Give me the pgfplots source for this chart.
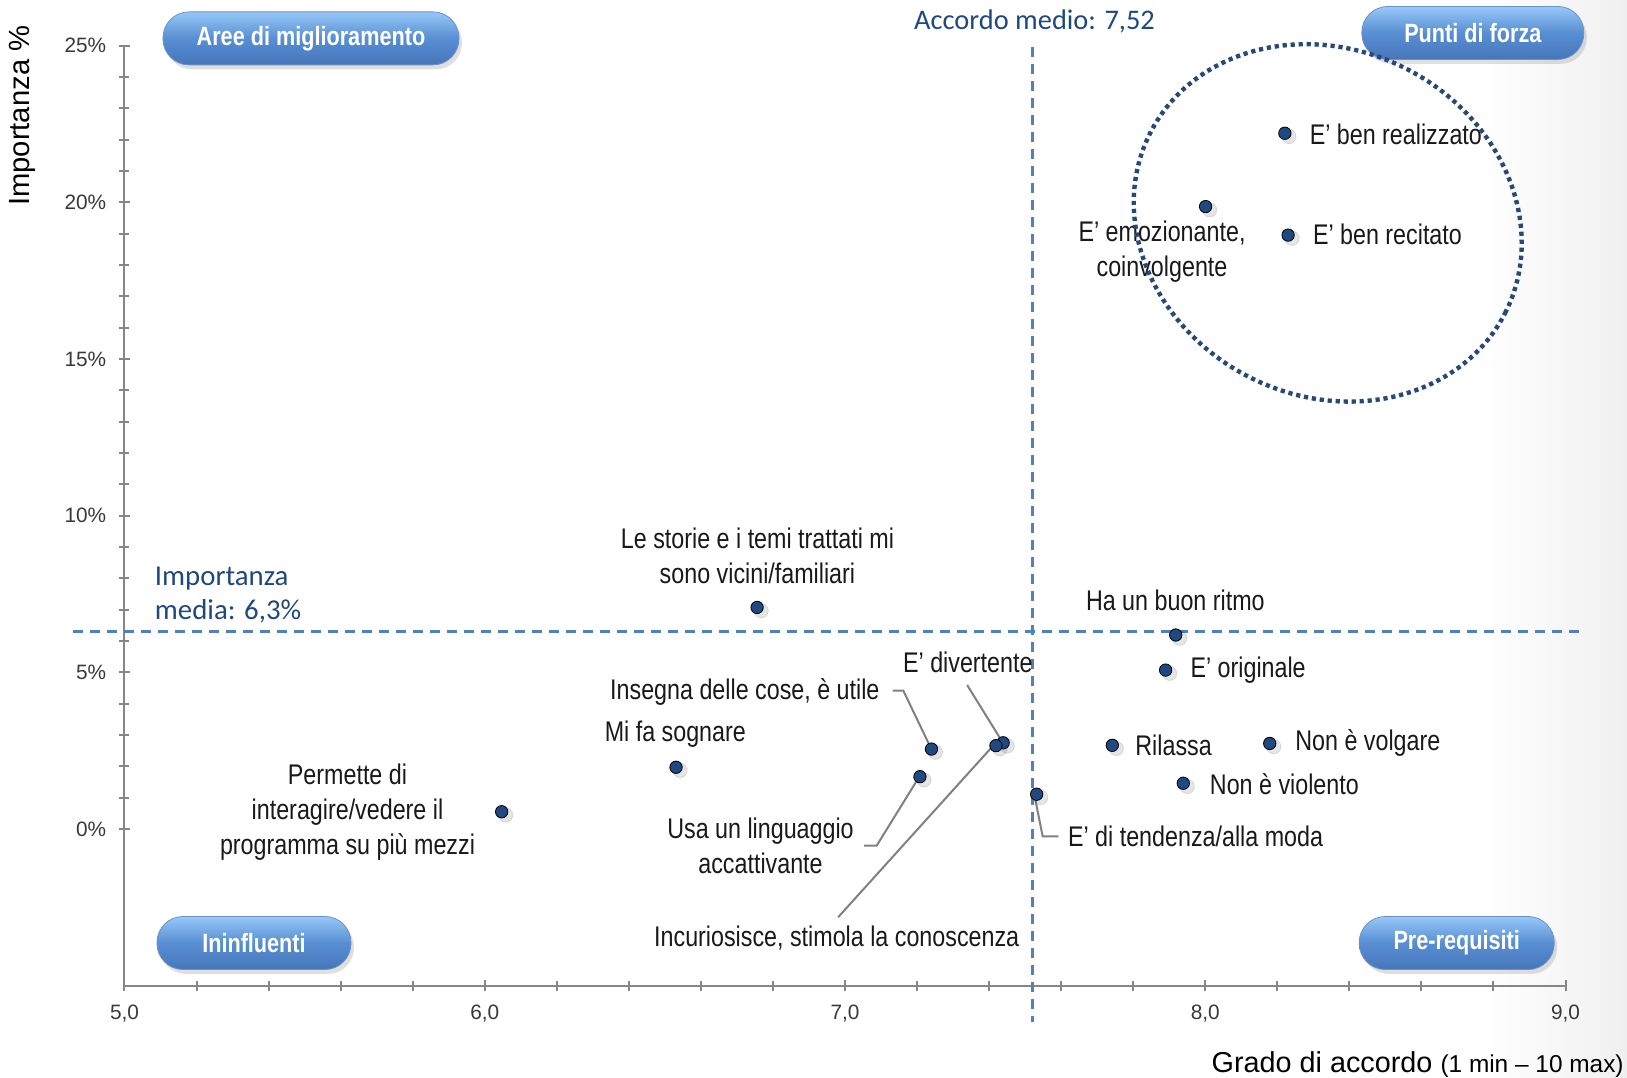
\documentclass[border=0pt]{standalone}
\usepackage{fontspec}
\setmainfont{Liberation Sans}
\newfontfamily\narrow[FakeStretch=0.82]{Liberation Sans}
\newfontfamily\calibri{Carlito}
\usepackage{pgfplots}
\pgfplotsset{compat=1.18}
\usetikzlibrary{shadows,shapes.geometric}
\definecolor{dotblue}{RGB}{31,73,128}
\definecolor{ellblue}{RGB}{40,72,120}
\definecolor{dashblue}{RGB}{79,129,189}
\definecolor{txtblue}{RGB}{31,73,125}
\definecolor{axgray}{RGB}{134,134,134}
\definecolor{btop}{RGB}{150,200,248}
\definecolor{bmid}{RGB}{88,142,210}
\definecolor{bbot}{RGB}{70,118,186}

\pgfplotstableread{
x y
8.221 22.20
8.001 19.86
8.230 18.95
6.756 7.07
7.918 6.19
7.890 5.07
7.439 2.75
7.419 2.66
7.240 2.55
7.208 1.67
6.531 1.97
6.047 0.55
7.532 1.11
7.742 2.67
8.179 2.73
7.939 1.46
}\datatable

\begin{document}
\begin{tikzpicture}[
  lbl/.style={font=\narrow\fontsize{14.2}{17.4}\selectfont, inner sep=0pt, text=black!90},
  lead/.style={black!50, line width=1pt},
  btn/.style={font=\narrow\bfseries\fontsize{13.2}{15}\selectfont, text=white,
     rounded corners=13pt, top color=btop, bottom color=bbot, middle color=bmid, draw=bbot!80,
     line width=0.4pt, minimum height=26.5pt, inner sep=0pt,
     drop shadow={opacity=0.25, shadow xshift=1.5pt, shadow yshift=-2.2pt}},
]
% soft grey vignette at right edge
\fill[left color=white, right color=black!6] (680pt,-45.65pt) rectangle (751.25pt,492.85pt);
\begin{axis}[
  width=720.5pt, height=470.1pt, scale only axis,
  xmin=5, xmax=9, ymin=-5, ymax=25,
  axis lines=left,
  axis line style={-, axgray, line width=1pt},
  xtick={5,6,7,8,9}, ytick={0,5,10,15,20,25},
  minor x tick num=4, minor y tick num=4,
  tick style={axgray, line width=1pt},
  major tick length=5.5pt, minor tick length=5pt, tick align=center,
  xticklabel={\pgfmathprintnumber[fixed,fixed zerofill,precision=1,use comma,assume math mode=true]{\tick}},
  yticklabel={\pgfmathprintnumber[assume math mode=true]{\tick}\%},
  tick label style={font=\rmfamily\fontsize{10.4}{12}\selectfont, text=black!78},
  y tick label style={xshift=-2.9pt},
  x tick label style={yshift=-3.5pt},
  clip=false,
]
% mean lines
\draw[dashblue, line width=1.25pt, dash pattern=on 5pt off 3.5pt] (axis cs:7.52,24.96) -- (axis cs:7.52,-6.16);
\draw[dashblue, line width=1.25pt, dash pattern=on 5pt off 3.5pt] (axis cs:4.856,6.3) -- (axis cs:9.055,6.3);

% leader lines
\draw[lead] (axis cs:7.339,4.595) -- (axis cs:7.4347,2.818);
\draw[lead] (axis cs:7.132,4.413) -- (axis cs:7.162,4.413) -- (axis cs:7.2356,2.648);
\draw[lead] (axis cs:7.053,-0.53) -- (axis cs:7.088,-0.53) -- (axis cs:7.200,1.554);
\draw[lead] (axis cs:6.981,-2.814) -- (axis cs:7.4105,2.648);
\draw[lead] (axis cs:7.528,0.957) -- (axis cs:7.5487,-0.233) -- (axis cs:7.592,-0.233);

% points (soft shadow then dot)
\addplot[only marks, mark=*, mark size=3.6pt, mark options={draw=none, fill=black, opacity=0.10, xshift=2pt, yshift=-1.6pt}] table {\datatable};
\addplot[only marks, mark=*, mark size=3.1pt, mark options={draw=none, fill=dotblue}] table {\datatable};

% labels
\node[lbl, anchor=west] at (axis cs:8.289,22.18) {E’ ben realizzato};
\node[lbl, align=center] at (axis cs:7.880,18.41) {E’ emozionante,\\coinvolgente};
\node[lbl, anchor=west] at (axis cs:8.298,18.97) {E’ ben recitato};
\node[lbl, align=center] at (axis cs:6.757,8.72) {Le storie e i temi trattati mi\\sono vicini/familiari};
\node[lbl] at (axis cs:7.917,7.28) {Ha un buon ritmo};
\node[lbl, anchor=west] at (axis cs:7.958,5.064) {E’ originale};
\node[lbl] at (axis cs:7.341,5.33) {E’ divertente};
\node[lbl] at (axis cs:6.722,4.37) {Insegna delle cose, è utile};
\node[lbl] at (axis cs:6.529,3.04) {Mi fa sognare};
\node[lbl, align=center] at (axis cs:5.619,0.53) {Permette di\\interagire/vedere il\\programma su più mezzi};
\node[lbl, align=center] at (axis cs:6.7655,-0.55) {Usa un linguaggio\\accattivante};
\node[lbl] at (axis cs:6.977,-3.478) {Incuriosisce, stimola la conoscenza};
\node[lbl, anchor=west] at (axis cs:7.618,-0.233) {E’ di tendenza/alla moda};
\node[lbl, anchor=west] at (axis cs:7.805,2.68) {Rilassa};
\node[lbl, anchor=west] at (axis cs:8.249,2.744) {Non è volgare};
\node[lbl, anchor=west] at (axis cs:8.012,1.423) {Non è violento};

\node[anchor=west, align=left, inner sep=0pt, font=\calibri\fontsize{14.4}{17}\selectfont, text=txtblue] at (axis cs:5.0835,7.46) {Importanza\\media: 6,3\%};
\node[inner sep=0pt, font=\calibri\fontsize{14.2}{17}\selectfont, text=txtblue] at (axis cs:7.526,25.756) {Accordo medio: 7,52};

% quadrant buttons
\node[btn, minimum width=148pt] at (axis cs:5.5176,25.227) {Aree di miglioramento};
\node[btn, minimum width=111pt] at (axis cs:8.7427,25.40) {Punti di forza};
\node[btn, minimum width=97pt] at (axis cs:5.3594,-3.638) {Ininfluenti};
\node[btn, minimum width=97.5pt] at (axis cs:8.698,-3.638) {Pre-requisiti};

% dotted ellipse
\node[draw=ellblue, ellipse, rotate=-27, minimum width=199pt, minimum height=173pt, inner sep=0pt,
      line width=2.2pt, dash pattern=on 2.1pt off 1.9pt] at (axis cs:8.340,19.34) {};
\end{axis}
\node[rotate=90, inner sep=0pt, font=\rmfamily\fontsize{14.6}{16}\selectfont] at (-50.85pt,435pt) {Importanza \%};
\node[anchor=base east, inner sep=0pt] at (749.75pt,-43.15pt) {\rmfamily\fontsize{14.4}{16}\selectfont Grado di accordo \fontsize{12.2}{14}\selectfont(1 min – 10 max)};
\pgfresetboundingbox
\path (-62.25pt,-45.65pt) rectangle (751.25pt,492.85pt);
\end{tikzpicture}
\end{document}
